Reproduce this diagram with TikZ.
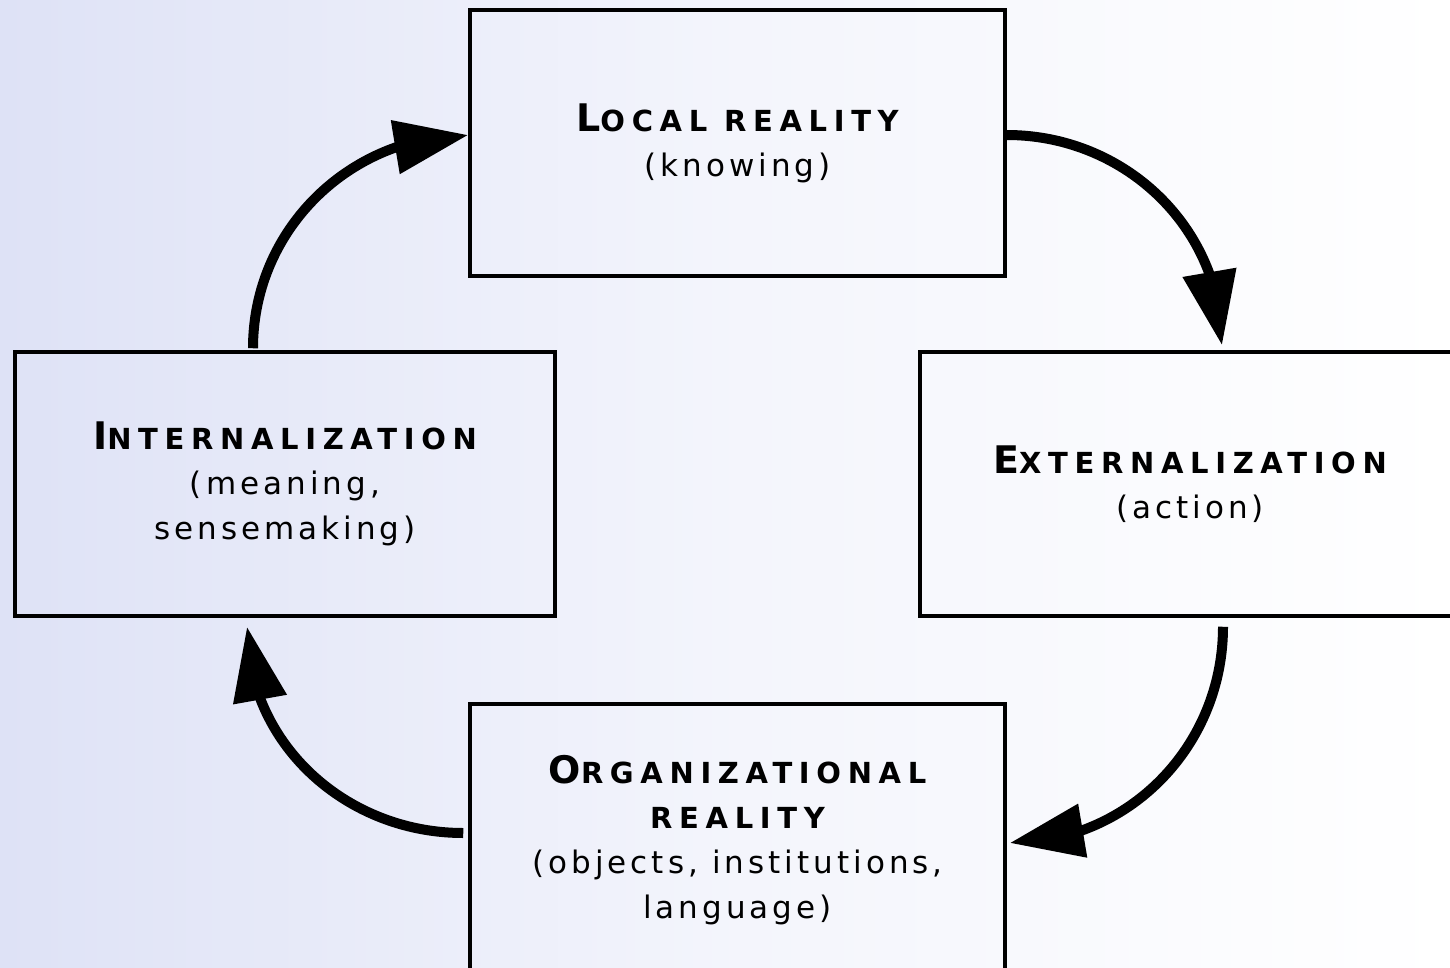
\documentclass[tikz,border=0pt]{standalone}
\usepackage{fontspec}
\setmainfont{DejaVu Sans}
\newfontfamily\headfont{DejaVu Sans}[LetterSpace=23]
\newfontfamily\subfont{DejaVu Sans}[LetterSpace=13]
\usetikzlibrary{arrows.meta,bending}
\newcommand\hd[2]{{\headfont\bfseries\fontsize{38}{45}\selectfont #1\fontsize{29}{45}\selectfont #2}}
\definecolor{lav}{RGB}{222,226,246}
\begin{document}
\begin{tikzpicture}[x=1pt,y=-1pt,
  box/.style={draw=black, line width=3.5pt, align=center, inner sep=0pt,
    font=\subfont\fontsize{31}{45}\selectfont},
  arr/.style={line width=10pt, -{Triangle[length=74pt,width=52pt,flex]}}]
\useasboundingbox (0,0) rectangle (1450,968);
\clip (0,0) rectangle (1450,968);
\shade[left color=lav, right color=white, middle color=white!65!lav] (0,0) rectangle (1450,968);

\node[box, minimum width=535pt, minimum height=266pt] (top) at (737.5,143)
  {\hd{L}{OCAL REALITY}\\(knowing)};
\node[box, minimum width=540pt, minimum height=264pt] (left) at (285,484)
  {\hd{I}{NTERNALIZATION}\\(meaning,\\sensemaking)};
\node[box, minimum width=540pt, minimum height=264pt] (right) at (1190,484)
  {\hd{E}{XTERNALIZATION}\\(action)};
\node[box, minimum width=535pt, minimum height=272pt] (bottom) at (737.5,840)
  {\hd{O}{RGANIZATIONAL}\\\hd{}{REALITY}\\(objects, institutions,\\language)};

\draw[arr] ([yshift=8pt]top.east) to[out=0,in=90] ([xshift=32pt,yshift=5pt]right.north);
\draw[arr] ([xshift=33pt,yshift=-9pt]right.south) to[out=-90,in=0] ([xshift=3pt,yshift=-3pt]bottom.east);
\draw[arr] ([xshift=-5pt,yshift=7pt]bottom.west) to[out=180,in=-90] ([xshift=-38pt,yshift=-9pt]left.south);
\draw[arr] ([xshift=-32pt,yshift=2pt]left.north) to[out=90,in=180] ([yshift=8pt]top.west);
\end{tikzpicture}
\end{document}
